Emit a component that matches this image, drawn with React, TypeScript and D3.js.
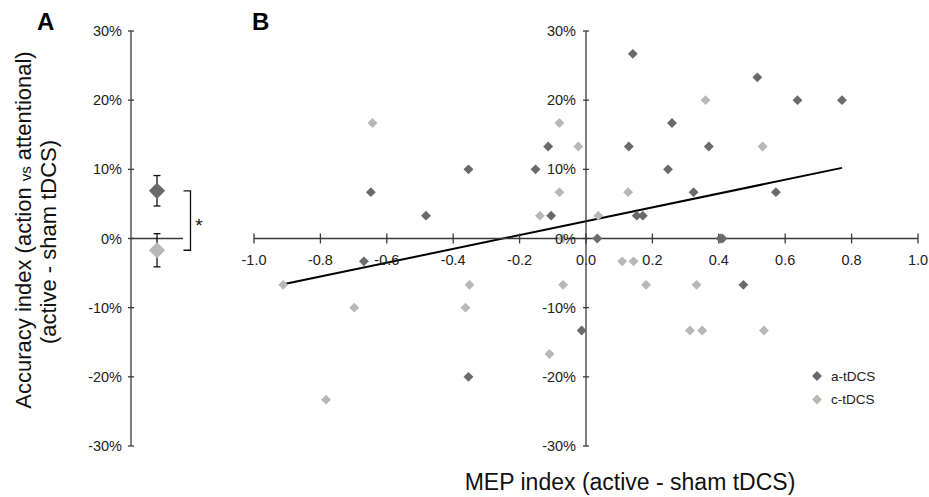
import React, { useEffect, useRef } from "react";
import * as d3 from "d3";

// panel A: group means (accuracy index) with error bars
const groupNames = ["a-tDCS", "c-tDCS"];
const groupMeans = [0.069, -0.017];
const groupErrors = [0.022, 0.024];

// panel B: MEP index vs accuracy index, per subject
const aMep = [
  0.141, 0.516, 0.637, 0.771, 0.259, -0.114, 0.129, 0.37, -0.354, -0.152, 0.247, -0.648, 0.324,
  0.572, -0.482, -0.105, 0.153, 0.171, 0.034, 0.405, 0.411, -0.669, 0.474, -0.013, -0.354,
];
const aAcc = [
  0.267, 0.233, 0.2, 0.2, 0.167, 0.133, 0.133, 0.133, 0.1, 0.1, 0.1, 0.067, 0.067,
  0.067, 0.033, 0.033, 0.033, 0.033, 0, 0, 0, -0.033, -0.067, -0.133, -0.2,
];
const cMep = [
  -0.643, -0.08, -0.023, 0.36, 0.532, -0.08, 0.127, -0.139, 0.037, -0.07, 0.109, 0.143,
  -0.912, -0.351, -0.069, 0.181, 0.333, -0.698, -0.363, -0.11, 0.313, 0.35, 0.536, -0.783,
];
const cAcc = [
  0.167, 0.167, 0.133, 0.2, 0.133, 0.067, 0.067, 0.033, 0.033, 0, -0.033, -0.033,
  -0.067, -0.067, -0.067, -0.067, -0.067, -0.1, -0.1, -0.167, -0.133, -0.133, -0.133, -0.233,
];

// linear trend line
const trendX = [-0.912, 0.771];
const trendIntercept = 0.025;
const trendSlope = 0.1;

const xTicks = [-1.0, -0.8, -0.6, -0.4, -0.2, 0.0, 0.2, 0.4, 0.6, 0.8, 1.0];
const yTicks = [-0.3, -0.2, -0.1, 0, 0.1, 0.2, 0.3];

const DARK = "#6a6a6a";
const LIGHT = "#b8b8b8";
const AXIS = "#3a3a3a";
const FONT = "Arial, 'Liberation Sans', sans-serif";

const App = () => {
  const svgRef = useRef<SVGSVGElement>(null);

  useEffect(() => {
    const svg = d3.select(svgRef.current);
    svg.selectAll("*").remove();

    const width = 929;
    const height = 497;
    svg.attr("width", width).attr("height", height);

    const y = d3.scaleLinear().domain([-0.3, 0.3]).range([446, 31]);
    const pct = (v: number) => `${Math.round(v * 100)}%`;

    const diamond = (side: number) =>
      d3.symbol().type(d3.symbolSquare).size(side * side)();

    // ---------- panel A ----------
    const gA = svg.append("g");
    const xA = d3.scaleLinear().domain([0, 1]).range([131, 183]);

    gA.append("line")
      .attr("x1", xA(0)).attr("x2", xA(0))
      .attr("y1", y(0.3)).attr("y2", y(-0.3))
      .attr("stroke", AXIS).attr("stroke-width", 1.3);
    gA.append("line")
      .attr("x1", xA(0)).attr("x2", xA(1))
      .attr("y1", y(0)).attr("y2", y(0))
      .attr("stroke", AXIS).attr("stroke-width", 1.3);

    gA.selectAll("line.tick")
      .data(yTicks)
      .join("line")
      .attr("class", "tick")
      .attr("x1", xA(0) - 3).attr("x2", xA(0) + 3)
      .attr("y1", (d) => y(d)).attr("y2", (d) => y(d))
      .attr("stroke", AXIS).attr("stroke-width", 1.3);

    gA.selectAll("text.tl")
      .data(yTicks)
      .join("text")
      .attr("class", "tl")
      .attr("x", xA(0) - 9)
      .attr("y", (d) => y(d))
      .attr("dy", "0.35em")
      .attr("text-anchor", "end")
      .style("font-family", FONT)
      .style("font-size", "14.5px")
      .attr("fill", "#222")
      .text((d) => pct(d));

    const groupColors = [DARK, LIGHT];
    groupNames.forEach((name, i) => {
      const cx = xA(0.5);
      const m = groupMeans[i];
      const e = groupErrors[i];
      const g = gA.append("g").attr("class", name);
      g.append("line")
        .attr("x1", cx).attr("x2", cx)
        .attr("y1", y(m + e)).attr("y2", y(m - e))
        .attr("stroke", "#111").attr("stroke-width", 1.3);
      [m + e, m - e].forEach((v) => {
        g.append("line")
          .attr("x1", cx - 3.5).attr("x2", cx + 3.5)
          .attr("y1", y(v)).attr("y2", y(v))
          .attr("stroke", "#111").attr("stroke-width", 1.3);
      });
      g.append("path")
        .attr("d", diamond(11.5))
        .attr("transform", `translate(${cx},${y(m)}) rotate(45)`)
        .attr("fill", groupColors[i]);
    });

    // significance bracket
    const bx = 190.5;
    gA.append("path")
      .attr(
        "d",
        `M${bx - 7},${y(groupMeans[0])}H${bx}V${y(groupMeans[1])}H${bx - 7}`
      )
      .attr("fill", "none")
      .attr("stroke", "#111")
      .attr("stroke-width", 1.3);
    gA.append("text")
      .attr("x", bx + 8.5)
      .attr("y", (y(groupMeans[0]) + y(groupMeans[1])) / 2 + 11)
      .attr("text-anchor", "middle")
      .style("font-family", FONT)
      .style("font-size", "19px")
      .attr("fill", "#111")
      .text("*");

    // ---------- panel B ----------
    const gB = svg.append("g");
    const x = d3.scaleLinear().domain([-1, 1]).range([254, 918]);

    // trend line
    gB.append("path")
      .datum(trendX.map((v) => [v, trendIntercept + trendSlope * v]))
      .attr(
        "d",
        d3.line<number[]>().x((d) => x(d[0])).y((d) => y(d[1]))
      )
      .attr("fill", "none")
      .attr("stroke", "#000")
      .attr("stroke-width", 2);

    // axes
    gB.append("line")
      .attr("x1", x(-1)).attr("x2", x(1))
      .attr("y1", y(0)).attr("y2", y(0))
      .attr("stroke", AXIS).attr("stroke-width", 1.3);
    gB.append("line")
      .attr("x1", x(0)).attr("x2", x(0))
      .attr("y1", y(0.3)).attr("y2", y(-0.3))
      .attr("stroke", AXIS).attr("stroke-width", 1.3);

    gB.selectAll("line.xt")
      .data(xTicks)
      .join("line")
      .attr("class", "xt")
      .attr("x1", (d) => x(d)).attr("x2", (d) => x(d))
      .attr("y1", y(0) - 5).attr("y2", y(0) + 5)
      .attr("stroke", AXIS).attr("stroke-width", 1.3);
    gB.selectAll("line.yt")
      .data(yTicks)
      .join("line")
      .attr("class", "yt")
      .attr("x1", x(0) - 3).attr("x2", x(0) + 3)
      .attr("y1", (d) => y(d)).attr("y2", (d) => y(d))
      .attr("stroke", AXIS).attr("stroke-width", 1.3);

    // points
    const pointsA = aMep.map((v, i) => ({ mep: v, acc: aAcc[i] }));
    const pointsC = cMep.map((v, i) => ({ mep: v, acc: cAcc[i] }));
    [
      { pts: pointsC, color: LIGHT },
      { pts: pointsA, color: DARK },
    ].forEach(({ pts, color }) => {
      gB.append("g")
        .selectAll("path")
        .data(pts)
        .join("path")
        .attr("d", diamond(7))
        .attr("transform", (d) => `translate(${x(d.mep)},${y(d.acc)}) rotate(45)`)
        .attr("fill", color);
    });

    // tick labels (drawn over markers)
    gB.selectAll("text.xl")
      .data(xTicks)
      .join("text")
      .attr("class", "xl")
      .attr("x", (d) => x(d))
      .attr("y", y(0) + 26)
      .attr("text-anchor", "middle")
      .style("font-family", FONT)
      .style("font-size", "14.5px")
      .attr("fill", "#222")
      .text((d) => d.toFixed(1));
    gB.selectAll("text.yl")
      .data(yTicks)
      .join("text")
      .attr("class", "yl")
      .attr("x", x(0) - 10)
      .attr("y", (d) => y(d))
      .attr("dy", "0.35em")
      .attr("text-anchor", "end")
      .style("font-family", FONT)
      .style("font-size", "14.5px")
      .attr("fill", "#222")
      .text((d) => pct(d));

    // legend
    const legend = gB.append("g").attr("transform", "translate(817,376)");
    groupNames.forEach((name, i) => {
      const row = legend.append("g").attr("transform", `translate(0,${i * 23.5})`);
      row.append("path")
        .attr("d", diamond(7))
        .attr("transform", "rotate(45)")
        .attr("fill", groupColors[i]);
      row.append("text")
        .attr("x", 14)
        .attr("dy", "0.35em")
        .style("font-family", FONT)
        .style("font-size", "13.5px")
        .attr("fill", "#222")
        .text(name);
    });

    // ---------- titles ----------
    svg.append("text")
      .attr("x", 630)
      .attr("y", 490)
      .attr("text-anchor", "middle")
      .style("font-family", FONT)
      .style("font-size", "23px")
      .attr("fill", "#111")
      .text("MEP index (active - sham tDCS)");

    const yTitle1 = svg.append("text")
      .attr("transform", "translate(31,230) rotate(-90)")
      .attr("text-anchor", "middle")
      .style("font-family", FONT)
      .style("font-size", "22px")
      .attr("fill", "#111");
    yTitle1.append("tspan").text("Accuracy index (action ");
    yTitle1.append("tspan").style("font-size", "15px").text("vs");
    yTitle1.append("tspan").text(" attentional)");

    svg.append("text")
      .attr("transform", "translate(56,242) rotate(-90)")
      .attr("text-anchor", "middle")
      .style("font-family", FONT)
      .style("font-size", "22px")
      .attr("fill", "#111")
      .text("(active - sham tDCS)");

    [
      { label: "A", x: 37 },
      { label: "B", x: 252 },
    ].forEach((p) => {
      svg.append("text")
        .attr("x", p.x)
        .attr("y", 30)
        .style("font-family", FONT)
        .style("font-size", "24px")
        .style("font-weight", "bold")
        .attr("fill", "#000")
        .text(p.label);
    });
  }, []);

  return (
    <div style={{ position: "absolute", left: 0, top: 0, width: 929, height: 497, background: "#fff" }}>
      <svg ref={svgRef} style={{ display: "block" }}></svg>
    </div>
  );
};

export default App;
